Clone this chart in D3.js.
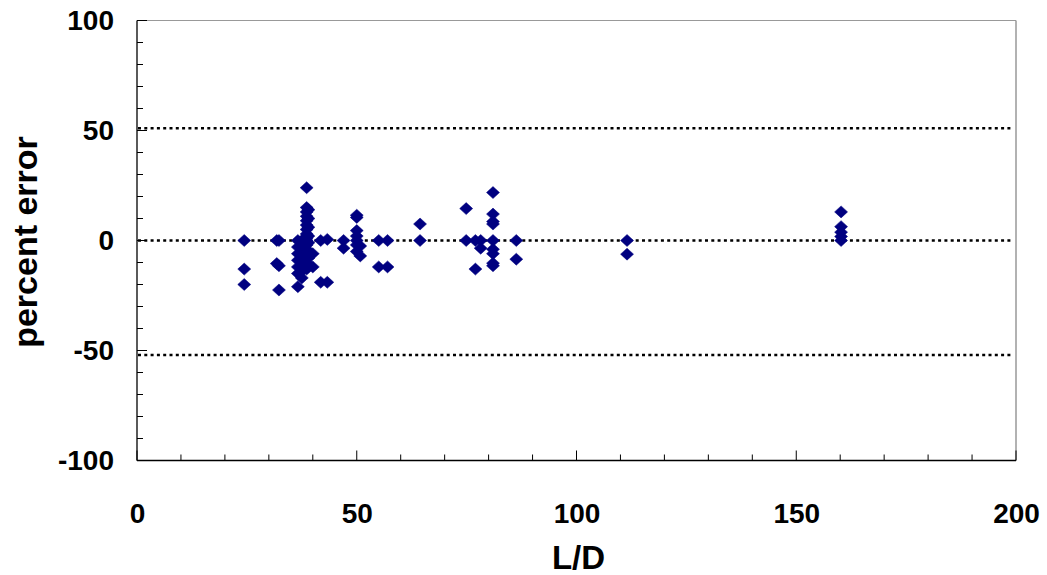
<!DOCTYPE html>
<html>
<head>
<meta charset="utf-8">
<script src="https://cdn.jsdelivr.net/npm/d3@7"></script>
<style>
html,body{margin:0;padding:0;background:#fff;}
svg{display:block;}
text{font-family:"Liberation Sans",Arial,sans-serif;font-weight:bold;fill:#000;}
</style>
</head>
<body>
<svg id="chart" width="1047" height="575"></svg>
<script>
// ---- data ----
const ldValues = [
  24.4,24.4,24.4,
  31.8,31.8, 32.3,32.3,32.3,
  36.6,36.6,36.6,36.6,36.6,36.6,36.6,
  37.5,37.5,37.5,37.5,37.5,37.5,37.5,
  38.6,38.6,38.6,38.6,38.6,38.6,38.6,38.6,38.6,38.6,38.6,38.6,38.6,38.6,38.6,
  39,39,39,39,39,39,39,39,
  40,40,
  41.8,41.8, 43.3,43.3,
  47,47,
  50,50,50,50,50,50,50, 50.8,50.8,
  55,55, 57,57,
  64.4,64.4,
  74.9,74.9, 77,77, 78.2,78.2,
  81,81,81,81,81,81,81,81,81,
  86.3,86.3,
  111.5,111.5,
  160.2,160.2,160.2,160.2,160.2
];
const errValues = [
  0,-13,-20,
  0,-10.5, 0,-11.5,-22.5,
  0,-3,-6,-9,-12,-15,-21,
  0,-2,-5,-8,-11,-14,-17,
  24,15,13,11,9,7,5,3,1,0,-2,-4,-7,-10,-13,
  14,10,6,2,-1,-5,-8,-12,
  -6,-12,
  0,-19, 0.5,-19,
  0,-3.5,
  11.5,10.5,4.5,2,0,-2,-5, -2.5,-7,
  0,-12, 0,-12,
  7.5,0,
  14.5,0, 0,-13, 0,-3.5,
  21.8,12,8.6,7.5,0,-4,-6,-10.3,-11.5,
  0,-8.5,
  0,-6.2,
  13,6.3,3.8,1.8,0
];
const refLines = [51, 0, -52];
const xTicks = [0, 50, 100, 150, 200];
const yTicks = [-100, -50, 0, 50, 100];
const xTitle = "L/D";
const yTitle = "percent error";

// ---- layout ----
const svg = d3.select("#chart");
const L = 137, R = 1016, T = 20.5, B = 460.5;
const x = d3.scaleLinear().domain([0, 200]).range([L, R]);
const y = d3.scaleLinear().domain([-100, 100]).range([B, T]);
const fmt = d => String(d);

// plot border (top/right grey)
svg.append("line").attr("x1", L).attr("x2", R).attr("y1", T).attr("y2", T)
  .attr("stroke", "#999").attr("stroke-width", 1);
svg.append("line").attr("x1", R).attr("x2", R).attr("y1", T).attr("y2", B)
  .attr("stroke", "#999").attr("stroke-width", 1.5);

// reference dotted lines
svg.append("g").selectAll("line").data(refLines).join("line")
  .attr("x1", L + 1).attr("x2", R - 3)
  .attr("y1", d => y(d)).attr("y2", d => y(d))
  .attr("stroke", "#000").attr("stroke-width", 2.5)
  .attr("stroke-dasharray", "3 3.3");

// ticks (inward)
const minorX = d3.range(0, 201, 10);
const minorY = d3.range(-100, 101, 10);
svg.append("g").selectAll("line").data(minorX).join("line")
  .attr("x1", d => x(d)).attr("x2", d => x(d))
  .attr("y1", B).attr("y2", d => B - (d % 50 === 0 ? 10 : 6))
  .attr("stroke", "#000").attr("stroke-width", 1);
svg.append("g").selectAll("line").data(minorY).join("line")
  .attr("y1", d => y(d)).attr("y2", d => y(d))
  .attr("x1", L).attr("x2", d => L + (d % 50 === 0 ? 10 : 6))
  .attr("stroke", "#000").attr("stroke-width", 1);

// axes lines
svg.append("line").attr("x1", L).attr("x2", R).attr("y1", B).attr("y2", B)
  .attr("stroke", "#000").attr("stroke-width", 1.3);
svg.append("line").attr("x1", L).attr("x2", L).attr("y1", T).attr("y2", B)
  .attr("stroke", "#000").attr("stroke-width", 1.3);

// tick labels via d3 axes (lines hidden)
const xAxis = svg.append("g").attr("transform", `translate(0,${B})`)
  .call(d3.axisBottom(x).tickValues(xTicks).tickSize(0).tickPadding(43).tickFormat(fmt));
xAxis.select(".domain").remove();
xAxis.selectAll("text").style("font-size", "28px").style("font-family", "'Liberation Sans',Arial,sans-serif").style("font-weight", "bold");

const yAxis = svg.append("g").attr("transform", `translate(${L},0)`)
  .call(d3.axisLeft(y).tickValues(yTicks).tickSize(0).tickPadding(23).tickFormat(fmt));
yAxis.select(".domain").remove();
yAxis.selectAll("text").style("font-size", "28px").style("font-family", "'Liberation Sans',Arial,sans-serif").style("font-weight", "bold");

// axis titles
svg.append("text").attr("x", (L + R) / 2 + 2).attr("y", 569)
  .attr("text-anchor", "middle").style("font-size", "33px").text(xTitle);
svg.append("text").attr("transform", `translate(37,242) rotate(-90)`)
  .attr("text-anchor", "middle").style("font-size", "34px").text(yTitle);

// markers (diamonds)
const pts = ldValues.map((v, i) => ({ ld: v, err: errValues[i] }));
const hw = 6.5, hh = 6;
const diamond = `M0,${-hh}L${hw},0L0,${hh}L${-hw},0Z`;
svg.append("g").selectAll("path").data(pts).join("path")
  .attr("transform", d => `translate(${x(d.ld)},${y(d.err)})`)
  .attr("d", diamond)
  .attr("fill", "#000080").attr("stroke", "#000080").attr("stroke-width", 0.5);
</script>
</body>
</html>
